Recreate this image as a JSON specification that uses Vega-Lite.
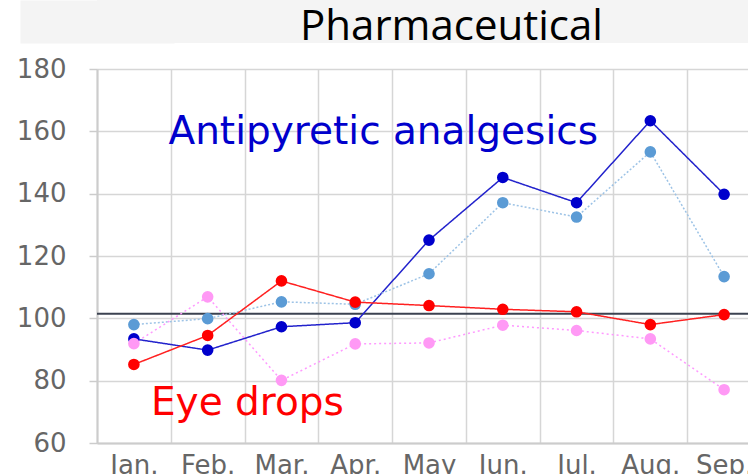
{
  "$schema": "https://vega.github.io/schema/vega-lite/v6.json",
  "padding": {"left": 16, "top": 0, "right": 0, "bottom": 0},
  "background": "white",
  "spacing": 8,
  "config": {
    "view": {"stroke": null},
    "font": "DejaVu Sans"
  },
  "datasets": {
    "series": [
      {"month": "Jan.", "series": "Antipyretic analgesics", "value": 93.4},
      {"month": "Feb.", "series": "Antipyretic analgesics", "value": 89.8},
      {"month": "Mar.", "series": "Antipyretic analgesics", "value": 97.3},
      {"month": "Apr.", "series": "Antipyretic analgesics", "value": 98.6},
      {"month": "May", "series": "Antipyretic analgesics", "value": 125.1},
      {"month": "Jun.", "series": "Antipyretic analgesics", "value": 145.2},
      {"month": "Jul.", "series": "Antipyretic analgesics", "value": 137.1},
      {"month": "Aug.", "series": "Antipyretic analgesics", "value": 163.4},
      {"month": "Sep.", "series": "Antipyretic analgesics", "value": 139.8},
      {"month": "Jan.", "series": "Antipyretic analgesics (prev)", "value": 98.0},
      {"month": "Feb.", "series": "Antipyretic analgesics (prev)", "value": 99.9},
      {"month": "Mar.", "series": "Antipyretic analgesics (prev)", "value": 105.3},
      {"month": "Apr.", "series": "Antipyretic analgesics (prev)", "value": 104.5},
      {"month": "May", "series": "Antipyretic analgesics (prev)", "value": 114.3},
      {"month": "Jun.", "series": "Antipyretic analgesics (prev)", "value": 137.1},
      {"month": "Jul.", "series": "Antipyretic analgesics (prev)", "value": 132.5},
      {"month": "Aug.", "series": "Antipyretic analgesics (prev)", "value": 153.4},
      {"month": "Sep.", "series": "Antipyretic analgesics (prev)", "value": 113.4},
      {"month": "Jan.", "series": "Eye drops", "value": 85.2},
      {"month": "Feb.", "series": "Eye drops", "value": 94.5},
      {"month": "Mar.", "series": "Eye drops", "value": 112.0},
      {"month": "Apr.", "series": "Eye drops", "value": 105.2},
      {"month": "May", "series": "Eye drops", "value": 104.1},
      {"month": "Jun.", "series": "Eye drops", "value": 102.9},
      {"month": "Jul.", "series": "Eye drops", "value": 102.1},
      {"month": "Aug.", "series": "Eye drops", "value": 98.0},
      {"month": "Sep.", "series": "Eye drops", "value": 101.2},
      {"month": "Jan.", "series": "Eye drops (prev)", "value": 91.9},
      {"month": "Feb.", "series": "Eye drops (prev)", "value": 106.9},
      {"month": "Mar.", "series": "Eye drops (prev)", "value": 80.1},
      {"month": "Apr.", "series": "Eye drops (prev)", "value": 91.8},
      {"month": "May", "series": "Eye drops (prev)", "value": 92.1},
      {"month": "Jun.", "series": "Eye drops (prev)", "value": 97.8},
      {"month": "Jul.", "series": "Eye drops (prev)", "value": 96.1},
      {"month": "Aug.", "series": "Eye drops (prev)", "value": 93.4},
      {"month": "Sep.", "series": "Eye drops (prev)", "value": 77.1}
    ]
  },
  "vconcat": [
    {
      "width": 709,
      "height": 43,
      "view": {"fill": "#f4f4f4", "stroke": null},
      "data": {"values": [{"label": "Pharmaceutical"}]},
      "mark": {"type": "text", "font": "Open Sans", "fontSize": 42, "color": "#000000", "baseline": "alphabetic", "dy": 18.5},
      "encoding": {
        "text": {"field": "label", "type": "nominal"},
        "y": {
          "field": "label", "type": "nominal",
          "axis": {"title": null, "labels": false, "ticks": false, "grid": false, "domainColor": "#f4f4f4", "domainWidth": 154, "domainCap": "butt"}
        }
      }
    },
    {
      "width": 664,
      "height": 374,
      "encoding": {
        "x": {
          "field": "month", "type": "nominal",
          "sort": ["Jan.", "Feb.", "Mar.", "Apr.", "May", "Jun.", "Jul.", "Aug.", "Sep."],
          "scale": {"type": "band", "domain": ["Jan.", "Feb.", "Mar.", "Apr.", "May", "Jun.", "Jul.", "Aug.", "Sep."], "paddingInner": 0, "paddingOuter": 0},
          "axis": {
            "title": null, "labelAngle": 0, "tickBand": "extent", "ticks": false,
            "domainColor": "#cccccc", "domainWidth": 2,
            "grid": true, "gridColor": "#d6d6d6", "gridWidth": 1.5,
            "labelFontSize": 26, "labelColor": "#666666", "labelPadding": 9, "labelOverlap": false, "labelFont": "DejaVu Sans"
          }
        },
        "y": {
          "field": "value", "type": "quantitative",
          "scale": {"domain": [60, 180], "nice": false, "zero": false},
          "axis": {
            "title": null, "values": [60, 80, 100, 120, 140, 160, 180],
            "ticks": true, "tickSize": 8, "tickColor": "#cccccc", "tickWidth": 1.5, "labelPadding": 23,
            "labelFontSize": 26, "labelColor": "#666666", "labelFont": "DejaVu Sans",
            "domainColor": "#cccccc", "domainWidth": 2,
            "grid": true, "gridColor": "#d6d6d6", "gridWidth": 1.5
          }
        }
      },
      "layer": [
        {
          "data": {"values": [{"value": 101.5}]},
          "mark": {"type": "rule", "color": "#3b4250", "strokeWidth": 2},
          "encoding": {"x": null}
        },
        {
          "data": {"name": "series"},
          "mark": {"type": "line"},
          "encoding": {
            "color": {
              "field": "series", "type": "nominal", "legend": null,
              "scale": {"domain": ["Eye drops (prev)", "Antipyretic analgesics (prev)", "Eye drops", "Antipyretic analgesics"], "range": ["#ff99ff", "#9dc3e6", "#ff2020", "#2222cc"]}
            },
            "strokeDash": {
              "field": "series", "type": "nominal", "legend": null,
              "scale": {"domain": ["Eye drops (prev)", "Antipyretic analgesics (prev)", "Eye drops", "Antipyretic analgesics"], "range": [[2, 3], [2, 2], [1, 0], [1, 0]]}
            },
            "strokeWidth": {
              "field": "series", "type": "nominal", "legend": null,
              "scale": {"domain": ["Eye drops (prev)", "Antipyretic analgesics (prev)", "Eye drops", "Antipyretic analgesics"], "range": [1.5, 1.5, 2.6, 2.6]}
            }
          }
        },
        {
          "data": {"name": "series"},
          "mark": {"type": "circle", "size": 135, "opacity": 1},
          "encoding": {
            "fill": {
              "field": "series", "type": "nominal", "legend": null,
              "scale": {"domain": ["Eye drops (prev)", "Antipyretic analgesics (prev)", "Eye drops", "Antipyretic analgesics"], "range": ["#ff99f5", "#5b9bd5", "#ff0000", "#0000cc"]}
            }
          }
        },
        {
          "data": {"values": [{"label": "Antipyretic analgesics", "month": "Apr.", "value": 155.9}]},
          "mark": {"type": "text", "font": "DejaVu Sans", "fontSize": 39, "color": "#0000cc", "baseline": "alphabetic", "align": "center", "dx": 28},
          "encoding": {"text": {"field": "label", "type": "nominal"}}
        },
        {
          "data": {"values": [{"label": "Eye drops", "month": "Mar.", "value": 69.1}]},
          "mark": {"type": "text", "font": "DejaVu Sans", "fontSize": 39, "color": "#ff0000", "baseline": "alphabetic", "align": "center", "dx": -34},
          "encoding": {"text": {"field": "label", "type": "nominal"}}
        }
      ]
    }
  ]
}
